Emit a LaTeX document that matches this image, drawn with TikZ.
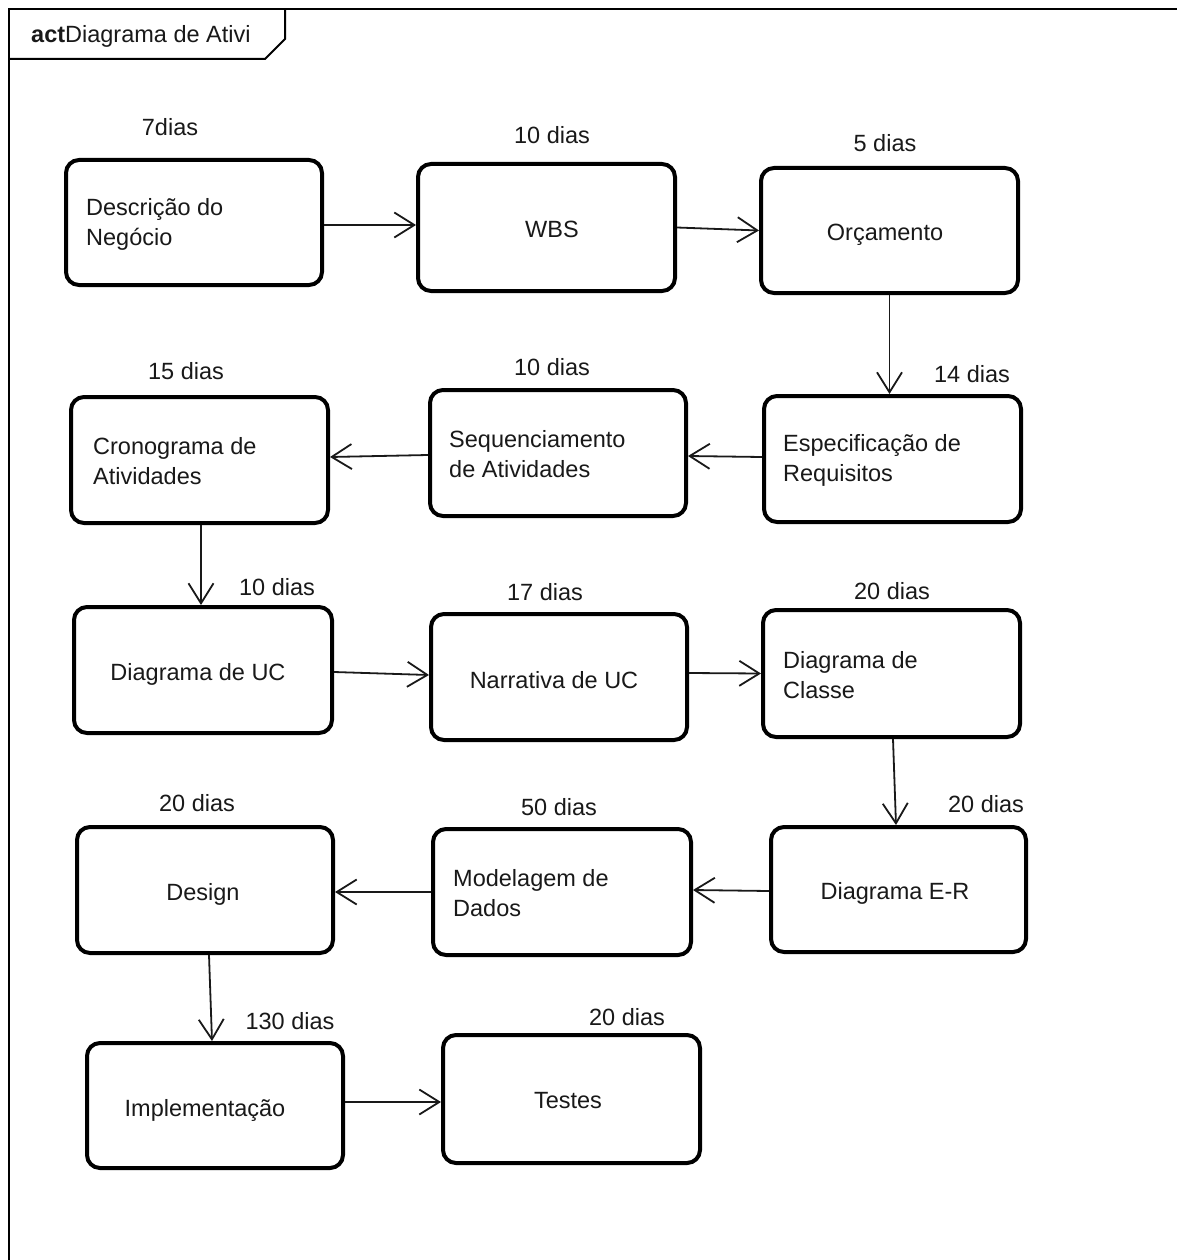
\documentclass[tikz,border=0pt]{standalone}
\usepackage{fontspec}
\setmainfont{Liberation Sans}
\usetikzlibrary{arrows.meta,calc}
\begin{document}
\begin{tikzpicture}[x=1pt,y=-1pt,
  activity/.style={draw=black, line width=4pt, rounded corners=13pt, inner sep=0pt, fill=white},
  txt/.style={font=\fontsize{23.5}{30}\selectfont, inner sep=0pt, text=black!90},
  multi/.style={txt, align=left, anchor=west},
  flow/.style={draw=black!90, line width=1.8pt, -{Straight Barb[length=20pt,width=25pt]}},
  frameline/.style={draw=black, line width=2pt}]
\useasboundingbox[fill=white] (0,0) rectangle (1177,1260);

% activity frame and its header tab
\draw[frameline] (9,1260) -- (9,9) -- (1177,9);
\draw[frameline] (9,59) -- (265,59) -- (285,39) -- (285,9);
\node[txt, anchor=west] (title) at (31,36) {\textbf{act}Diagrama de Ativi};

% activities
\node[activity, minimum width=256pt, minimum height=125pt] (desc)   at (194,222.5) {};
\node[activity, minimum width=257pt, minimum height=127pt] (wbs)    at (546.5,227.5) {};
\node[activity, minimum width=257pt, minimum height=125pt] (orc)    at (889.5,230.5) {};
\node[activity, minimum width=257pt, minimum height=126pt] (espec)  at (892.5,459) {};
\node[activity, minimum width=256pt, minimum height=126pt] (seq)    at (558,453) {};
\node[activity, minimum width=257pt, minimum height=126pt] (crono)  at (199.5,460) {};
\node[activity, minimum width=258pt, minimum height=126pt] (ucd)    at (203,670) {};
\node[activity, minimum width=256pt, minimum height=126pt] (narr)   at (559,677) {};
\node[activity, minimum width=257pt, minimum height=127pt] (classe) at (891.5,673.5) {};
\node[activity, minimum width=255pt, minimum height=125pt] (er)     at (898.5,889.5) {};
\node[activity, minimum width=258pt, minimum height=126pt] (model)  at (562,892) {};
\node[activity, minimum width=256pt, minimum height=126pt] (design) at (205,890) {};
\node[activity, minimum width=256pt, minimum height=125pt] (impl)   at (215,1105.5) {};
\node[activity, minimum width=257pt, minimum height=128pt] (testes) at (571.5,1099) {};

% activity names
\node[multi] (desc-t)   at (86,224)  {Descrição do\\Negócio};
\node[txt]   (wbs-t)    at (552,229) {WBS};
\node[txt]   (orc-t)    at (885,235) {Orçamento};
\node[multi] (espec-t)  at (783,460) {Especificação de\\Requisitos};
\node[multi] (seq-t)    at (449,454) {Sequenciamento\\de Atividades};
\node[multi] (crono-t)  at (93,461)  {Cronograma de\\Atividades};
\node[txt]   (ucd-t)    at (198,674) {Diagrama de UC};
\node[txt]   (narr-t)   at (554,680) {Narrativa de UC};
\node[multi] (classe-t) at (783,675) {Diagrama de\\Classe};
\node[txt]   (er-t)     at (895,893) {Diagrama E-R};
\node[multi] (model-t)  at (453,893) {Modelagem de\\Dados};
\node[txt]   (design-t) at (203,894) {Design};
\node[txt]   (impl-t)   at (205,1110) {Implementação};
\node[txt]   (testes-t) at (568,1101) {Testes};

% durations
\node[txt] (desc-d)   at (170,127)  {7dias};
\node[txt] (wbs-d)    at (552,135)  {10 dias};
\node[txt] (orc-d)    at (885,143)  {5 dias};
\node[txt] (espec-d)  at (972,374)  {14 dias};
\node[txt] (seq-d)    at (552,367)  {10 dias};
\node[txt] (crono-d)  at (186,371)  {15 dias};
\node[txt] (ucd-d)    at (277,587)  {10 dias};
\node[txt] (narr-d)   at (545,592)  {17 dias};
\node[txt] (classe-d) at (892,591)  {20 dias};
\node[txt] (er-d)     at (986,804)  {20 dias};
\node[txt] (model-d)  at (559,807)  {50 dias};
\node[txt] (design-d) at (197,803)  {20 dias};
\node[txt] (impl-d)   at (290,1021) {130 dias};
\node[txt] (testes-d) at (627,1017) {20 dias};

% control flow
\draw[flow] ([yshift=-2.5pt]desc.east) -- ([yshift=2.5pt]wbs.west);
\draw[flow] (wbs.east) -- (orc.west);
\draw[flow] (orc.south) -- (orc.south |- espec.north);
\draw[flow] ([yshift=2pt]espec.west) -- ([yshift=-3pt]seq.east);
\draw[flow] ([yshift=-2pt]seq.west) -- ([yshift=3pt]crono.east);
\draw[flow] ([xshift=1.5pt]crono.south) -- ([xshift=-2pt]ucd.north);
\draw[flow] ([yshift=-2pt]ucd.east) -- ([yshift=2pt]narr.west);
\draw[flow] ([yshift=4pt]narr.east) -- (classe.west);
\draw[flow] ([xshift=1.5pt]classe.south) -- ([xshift=-2.5pt]er.north);
\draw[flow] ([yshift=-1.5pt]er.west) -- ([yshift=2pt]model.east);
\draw[flow] (model.west) -- ([yshift=-2pt]design.east);
\draw[flow] ([xshift=4pt]design.south) -- ([xshift=-3pt]impl.north);
\draw[flow] ([yshift=3.5pt]impl.east) -- ([yshift=-3pt]testes.west);
\end{tikzpicture}
\end{document}
